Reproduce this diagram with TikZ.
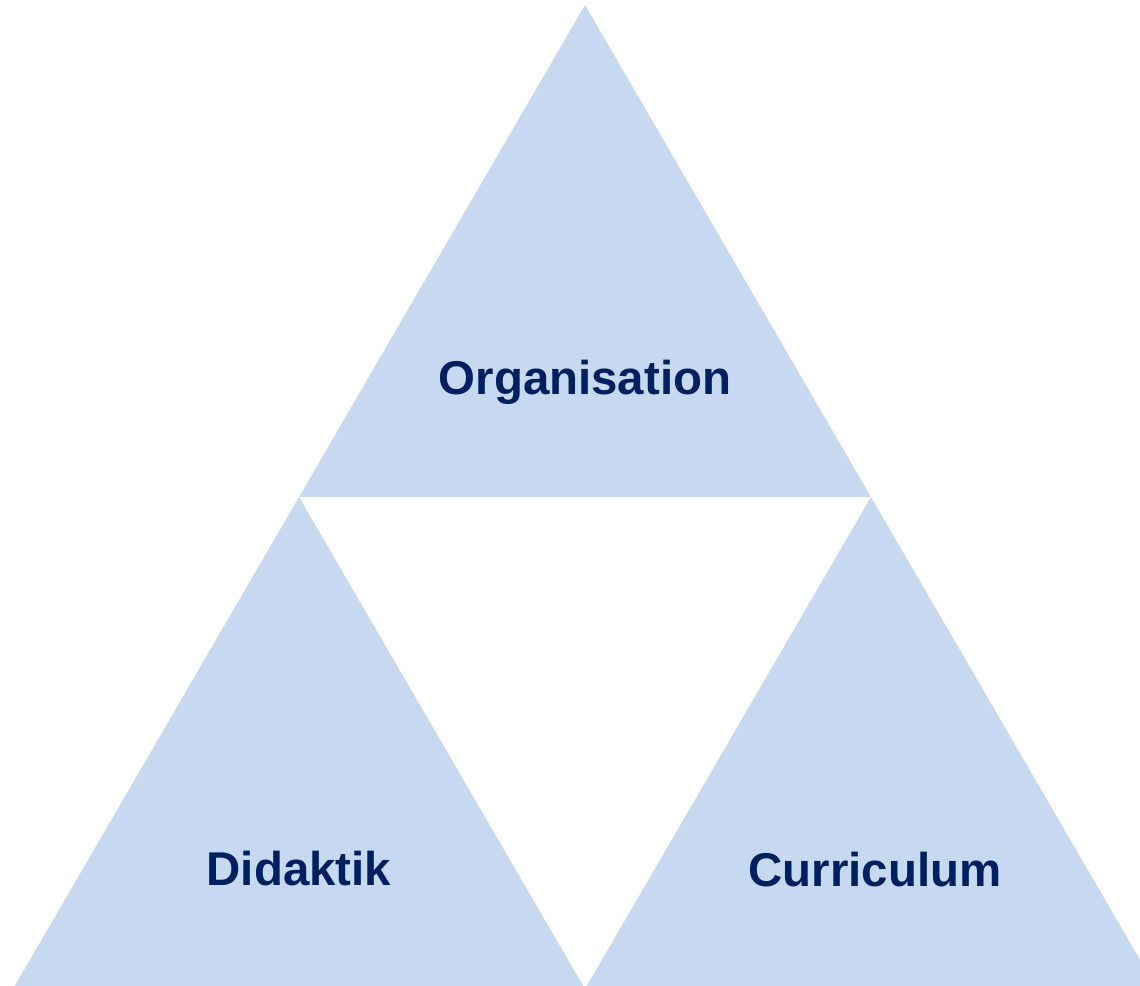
\documentclass[tikz,border=0pt]{standalone}
\usepackage{fontspec}
\setmainfont{Liberation Sans}
\definecolor{triFill}{HTML}{C6D9F1}
\definecolor{labelText}{HTML}{002060}

\begin{document}
\begin{tikzpicture}
[x=0.02cm,y=-0.02cm,%
  triDecorate/.style={fill=triFill},%
  labelDecorate/.style={anchor=base,inner sep=0pt,text=labelText,font=\fontsize{27}{32}\selectfont\bfseries}]
\useasboundingbox (0,0) rectangle (1140,986);
\clip (0,0) rectangle (1140,986);
%% triangles
\foreach \tx/\ty in {585/5, 299/497, 871/497}
{
  \fill[triDecorate] (\tx,\ty) -- ++(286,492) -- ++(-572,0) -- cycle;
}
%% labels
\node[labelDecorate] (org) at (585,395) {Organisation};
\node[labelDecorate] (did) at (299,885) {Didaktik};
\node[labelDecorate] (cur) at (875,886) {Curriculum};
\end{tikzpicture}
\end{document}
